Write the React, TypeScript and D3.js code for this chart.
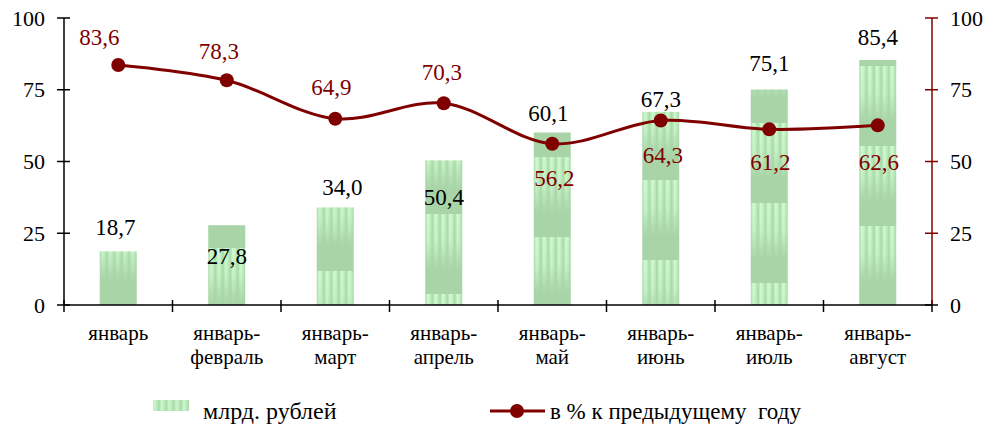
import React from "react";
import * as d3 from "d3";

const categories: string[][] = [
  ["январь"],
  ["январь-", "февраль"],
  ["январь-", "март"],
  ["январь-", "апрель"],
  ["январь-", "май"],
  ["январь-", "июнь"],
  ["январь-", "июль"],
  ["январь-", "август"],
];
const barValues = [18.7, 27.8, 34.0, 50.4, 60.1, 67.3, 75.1, 85.4];
const lineValues = [83.6, 78.3, 64.9, 70.3, 56.2, 64.3, 61.2, 62.6];
const yTicks = [0, 25, 50, 75, 100];
const barSeriesName = "млрд. рублей";
const lineSeriesName = "в % к предыдущему  году";

// label placement (layout)
const barLabelDx = [-3, 0, 7, 0, -4, 0, 0, 0];
const barLabelDy = [-24, 31, -20, 37, -20, -13, -27, -23];
const lineLabelDx = [-19, -8, -4, -2, 2, 2, 1, 1];
const lineLabelDy = [-28, -29, -32, -31, 34, 34, 33, 37];

const W = 992, H = 425;
const left = 64, right = 932, top = 18, bottom = 305;
const RED = "#800000";
const TS: React.CSSProperties = { fontFamily: "Times New Roman" };

const fmt = (v: number) => v.toFixed(1).replace(".", ",");

export default function App() {
  const x = d3.scaleBand<number>().domain(d3.range(categories.length)).range([left, right]).padding(0);
  const y = d3.scaleLinear().domain([0, 100]).range([bottom, top]);
  const barW = 37;
  const line = d3
    .line<number>()
    .x((_, i) => x(i)! + x.bandwidth() / 2)
    .y((d) => y(d))
    .curve(d3.curveCatmullRom.alpha(0.5));

  const tileW = barW / 5;
  const tileH = 80;

  return (
    <div style={{ position: "absolute", left: 0, top: 0 }}>
      <svg width={W} height={H} style={{ display: "block", background: "#fff" }}>
        <defs>
          <linearGradient id="stripeH" x1="0" x2="1" y1="0" y2="0">
            <stop offset="0" stopColor="#a6dba6" />
            <stop offset="0.35" stopColor="#d6fcd6" />
            <stop offset="0.7" stopColor="#c0efc0" />
            <stop offset="1" stopColor="#a4d8a4" />
          </linearGradient>
          <linearGradient id="fadeV" x1="0" x2="0" y1="0" y2="1">
            <stop offset="0" stopColor="#a8d4a8" stopOpacity="0" />
            <stop offset="0.35" stopColor="#a8d4a8" stopOpacity="0.2" />
            <stop offset="0.7" stopColor="#a8d4a8" stopOpacity="1" />
            <stop offset="1" stopColor="#a8d4a8" stopOpacity="1" />
          </linearGradient>
          {barValues.map((v, i) => {
            const bx = x(i)! + x.bandwidth() / 2 - barW / 2;
            return (
              <pattern
                key={i}
                id={`bp${i}`}
                patternUnits="userSpaceOnUse"
                width={tileW}
                height={tileH}
                x={bx}
                y={bottom - tileH * 3 + (i * 23) % tileH}
              >
                <rect width={tileW} height={tileH} fill="url(#stripeH)" />
                <rect width={tileW} height={tileH} fill="url(#fadeV)" />
              </pattern>
            );
          })}
        </defs>

        {/* bars */}
        {barValues.map((v, i) => {
          const bx = x(i)! + x.bandwidth() / 2 - barW / 2;
          return <rect key={i} x={bx} y={y(v)} width={barW} height={y(0) - y(v)} fill={`url(#bp${i})`} />;
        })}

        {/* left axis */}
        <line x1={left} x2={left} y1={top} y2={bottom} stroke="#000" strokeWidth={1.5} />
        {yTicks.map((t) => (
          <g key={"l" + t}>
            <line x1={left - 7} x2={left + 6} y1={y(t)} y2={y(t)} stroke="#000" strokeWidth={1.5} />
            <text x={left - 19} y={y(t)} dy="0.35em" textAnchor="end" fontSize={22} fill="#000" style={TS}>
              {t}
            </text>
          </g>
        ))}

        {/* x axis */}
        <line x1={left} x2={right} y1={bottom} y2={bottom} stroke="#000" strokeWidth={1.5} />
        {d3.range(categories.length + 1).map((i) => {
          const tx = left + i * x.bandwidth();
          return <line key={"xt" + i} x1={tx} x2={tx} y1={bottom - 5} y2={bottom + 7} stroke="#000" strokeWidth={1.5} />;
        })}
        {categories.map((c, i) => (
          <text key={"c" + i} x={x(i)! + x.bandwidth() / 2} y={340} textAnchor="middle" fontSize={21} fill="#000" style={TS}>
            {c.map((s, j) => (
              <tspan key={j} x={x(i)! + x.bandwidth() / 2} dy={j === 0 ? 0 : 24}>
                {s}
              </tspan>
            ))}
          </text>
        ))}

        {/* right axis */}
        <line x1={right} x2={right} y1={top} y2={bottom} stroke={RED} strokeWidth={1.5} />
        {yTicks.map((t) => (
          <g key={"r" + t}>
            <line x1={right - 7} x2={right + 6} y1={y(t)} y2={y(t)} stroke={t === 0 ? "#000" : RED} strokeWidth={1.5} />
            <text x={right + 18} y={y(t)} dy="0.35em" textAnchor="start" fontSize={22} fill="#000" style={TS}>
              {t}
            </text>
          </g>
        ))}

        {/* line */}
        <path d={line(lineValues) || ""} fill="none" stroke={RED} strokeWidth={3} />
        {lineValues.map((v, i) => (
          <circle key={"p" + i} cx={x(i)! + x.bandwidth() / 2} cy={y(v)} r={7} fill={RED} />
        ))}

        {/* bar labels */}
        {barValues.map((v, i) => (
          <text
            key={"bl" + i}
            x={x(i)! + x.bandwidth() / 2 + barLabelDx[i]}
            y={y(v) + barLabelDy[i]}
            dy="0.35em"
            textAnchor="middle"
            fontSize={23}
            fill="#000"
            style={TS}
          >
            {fmt(v)}
          </text>
        ))}

        {/* line labels */}
        {lineValues.map((v, i) => (
          <text
            key={"ll" + i}
            x={x(i)! + x.bandwidth() / 2 + lineLabelDx[i]}
            y={y(v) + lineLabelDy[i]}
            dy="0.35em"
            textAnchor="middle"
            fontSize={23}
            fill={RED}
            style={TS}
          >
            {fmt(v)}
          </text>
        ))}

        {/* legend */}
        <rect x={153} y={400} width={36} height={11} fill="url(#bp0)" />
        <text x={203} y={411} dy="0.35em" fontSize={24} fill="#000" style={TS}>
          {barSeriesName}
        </text>
        <line x1={490} x2={545} y1={411} y2={411} stroke={RED} strokeWidth={3} />
        <circle cx={517} cy={411} r={7} fill={RED} />
        <text x={550} y={411} dy="0.35em" fontSize={23} fill="#000" style={{ ...TS, whiteSpace: "pre" }}>
          {lineSeriesName}
        </text>
      </svg>
    </div>
  );
}
